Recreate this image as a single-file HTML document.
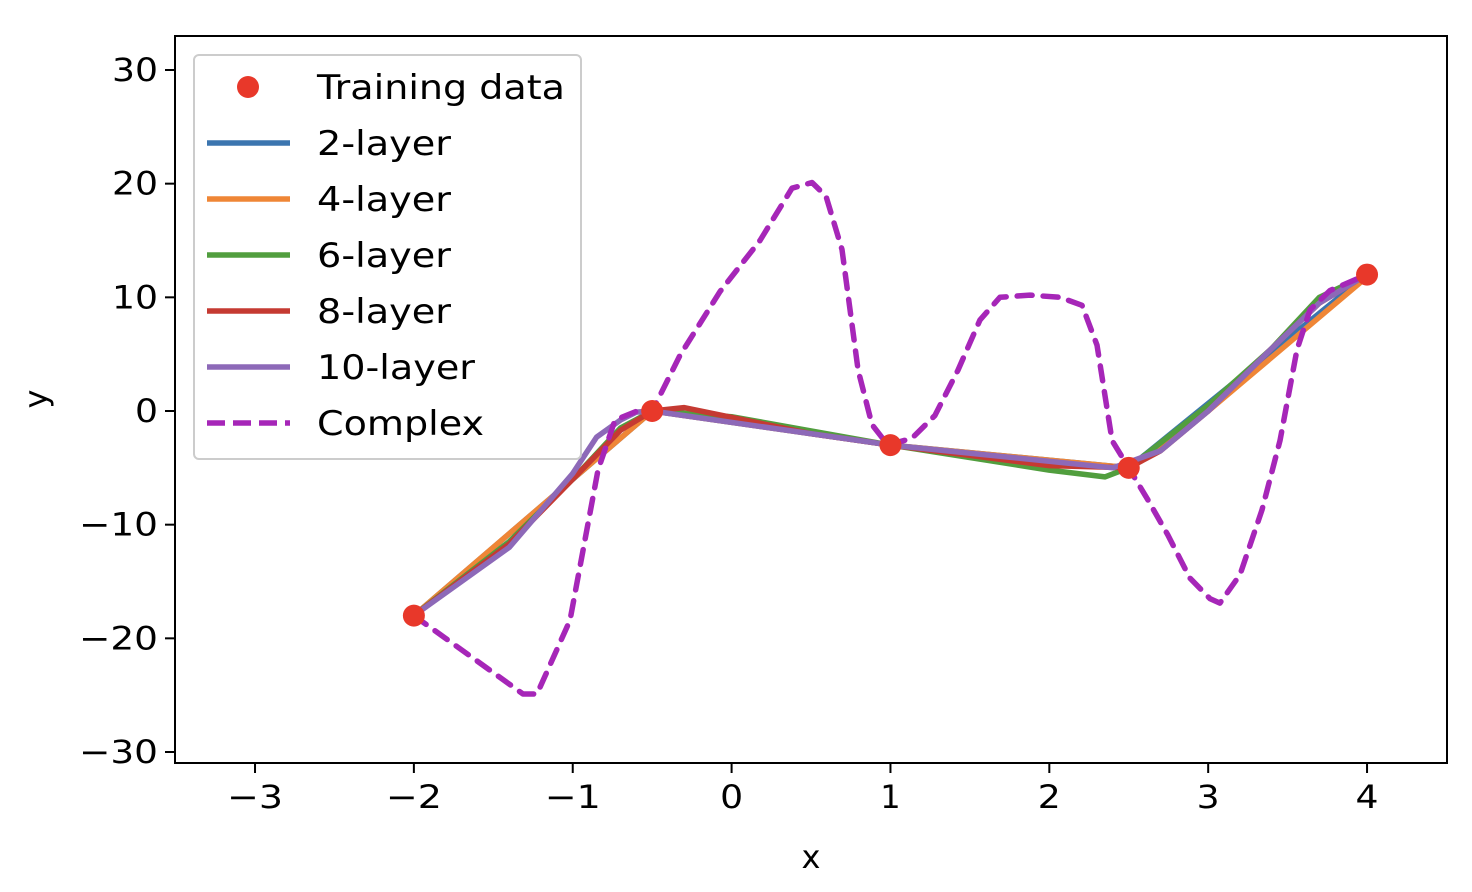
<!DOCTYPE html>
<html><head><meta charset="utf-8"><style>
html,body{margin:0;padding:0;background:#fff;}
svg{display:block;font-family:"DejaVu Sans","Liberation Sans",sans-serif;}
</style></head><body>
<svg id="chart" width="1472" height="892" viewBox="0 0 1472 892" xmlns="http://www.w3.org/2000/svg">
<g id="plot"></g>
</svg>
<script>
const xTicks=[-3,-2,-1,0,1,2,3,4];
const yTicks=[-30,-20,-10,0,10,20,30];
const trainX=[-2,-0.5,1,2.5,4];
const trainY=[-18,0,-3,-5,12];
const l2X=[-2,-0.5,1,2.5,4];
const l2Y=[-18,0,-3,-5,12];
const l4X=[-2,-1,-0.5,1,2.5,3,4];
const l4Y=[-18,-6,0,-3,-5,0,11.8];
const l6X=[-2,-1.4,-1,-0.7,-0.5,0,1,2,2.35,2.5,2.7,3,3.4,3.7,4];
const l6Y=[-18,-11.5,-6,-1.5,0,-0.5,-3,-5.2,-5.8,-5,-2.8,0.5,5.5,10,12];
const l8X=[-2,-1.4,-1,-0.7,-0.5,-0.3,0.5,1,2,2.5,2.7,3,3.4,3.7,4];
const l8Y=[-18,-11.7,-6,-1.7,0,0.3,-2,-3,-4.8,-5,-3.5,0,5.5,9.5,12];
const l10X=[-2,-1.4,-1,-0.85,-0.7,-0.6,-0.5,1,2.4,2.7,3,3.4,3.7,4];
const l10Y=[-18,-12,-5.5,-2.3,-0.8,-0.1,0,-3,-5,-3.5,0,5.5,9.5,12];
const cX=[-2,-1.313,-1.225,-1.017,-0.841,-0.734,-0.577,-0.5,-0.325,-0.073,0.179,0.38,0.506,0.594,0.695,0.796,0.884,0.984,1.135,1.28,1.425,1.563,1.689,1.878,2.067,2.206,2.3,2.395,2.489,2.62,2.746,2.885,3.011,3.074,3.2,3.339,3.452,3.559,3.641,3.767,4];
const cY=[-18,-24.9,-24.9,-18.4,-5.2,-0.8,0.1,0,4.9,10.5,15,19.6,20.1,18.9,14.2,3.6,-1.2,-3,-2.4,-0.4,3.6,8,10,10.2,10,9.3,5.8,-2.6,-4.75,-7.8,-10.9,-14.7,-16.5,-16.9,-14.4,-8.7,-2.6,5.4,8.9,10.6,12];

const L=175,R=1447,T=36,B=763;
const sx=v=>731.6+v*158.86;
const sy=v=>411-v*11.367;
const NS='http://www.w3.org/2000/svg';
const g=document.getElementById('plot');
function mk(tag,attrs,parent){const e=document.createElementNS(NS,tag);for(const k in attrs)e.setAttribute(k,attrs[k]);(parent||g).appendChild(e);return e;}
function tickW(v){const s=String(Math.abs(v));return s.length*23+(v<0?33:0);}

function series(xs,ys,color,name,dash){
  const d=xs.map((x,i)=>(i?'L':'M')+sx(x).toFixed(1)+','+sy(ys[i]).toFixed(1)).join(' ');
  const p=mk('path',{d:d,fill:'none',stroke:color,'stroke-width':5.5,'stroke-linejoin':'round','stroke-linecap':dash?'round':'square'});
  if(dash)p.setAttribute('stroke-dasharray','15,11');
  
  
}
series(l2X,l2Y,'#3b75af','line-2-layer');
series(l4X,l4Y,'#ef8636','line-4-layer');
series(l6X,l6Y,'#519e3e','line-6-layer');
series(l8X,l8Y,'#c53a32','line-8-layer');
series(l10X,l10Y,'#8d69b8','line-10-layer');
series(cX,cY,'#a626b8','line-complex',true);
trainX.forEach((x,i)=>{
  const c=mk('circle',{cx:sx(x),cy:sy(trainY[i]),r:11,fill:'#e8382a'});
  
  
});

const frame=mk('rect',{x:L,y:T,width:R-L,height:B-T,fill:'none',stroke:'#000','stroke-width':2});



xTicks.forEach(v=>{
  mk('line',{x1:sx(v),x2:sx(v),y1:B,y2:B+10,stroke:'#000','stroke-width':2});
  let t;
  if(v===1){
    t=mk('text',{x:sx(v),y:B+45,'font-size':32,fill:'#000','text-anchor':'middle'});
  } else {
    const w=tickW(v);
    t=mk('text',{x:sx(v)-w/2,y:B+45,'font-size':32,fill:'#000',textLength:w,lengthAdjust:'spacingAndGlyphs'});
  }
  t.textContent=(v<0?'\u2212':'')+Math.abs(v);
  
  
});
yTicks.forEach(v=>{
  mk('line',{x1:L-10,x2:L,y1:sy(v),y2:sy(v),stroke:'#000','stroke-width':2});
  const w=tickW(v);
  const t=mk('text',{x:L-17-w,y:sy(v)+11,'font-size':32,fill:'#000',textLength:w,lengthAdjust:'spacingAndGlyphs'});
  t.textContent=(v<0?'\u2212':'')+Math.abs(v);
  
  
});
const xl=mk('text',{x:811,y:868,'text-anchor':'middle','font-size':32});xl.textContent='x';


const yl=mk('text',{x:0,y:0,'text-anchor':'middle','font-size':32,transform:'translate(47,399) rotate(-90)'});yl.textContent='y';



const leg=mk('g',{});


mk('rect',{x:194,y:55,width:387,height:404,rx:5,fill:'#fff','fill-opacity':0.8,stroke:'#ccc','stroke-width':2},leg);
const entries=[['Training data','#e8382a','dot',248],['2-layer','#3b75af','',134],['4-layer','#ef8636','',134],['6-layer','#519e3e','',134],['8-layer','#c53a32','',134],['10-layer','#8d69b8','',158],['Complex','#a626b8','dash',167]];
entries.forEach((e,i)=>{
  const y=87+i*56.0;
  const eg=mk('g',{},leg);
  
  
  if(e[2]==='dot') mk('circle',{cx:248,cy:y,r:11,fill:e[1]},eg);
  else {const ln=mk('line',{x1:207,x2:290,y1:y,y2:y,stroke:e[1],'stroke-width':5.5},eg); if(e[2]==='dash')ln.setAttribute('stroke-dasharray','18,8');}
  const t=mk('text',{x:317,y:y+12,'font-size':34,textLength:e[3],lengthAdjust:'spacingAndGlyphs'},eg);t.textContent=e[0];
});
</script>
</body></html>
